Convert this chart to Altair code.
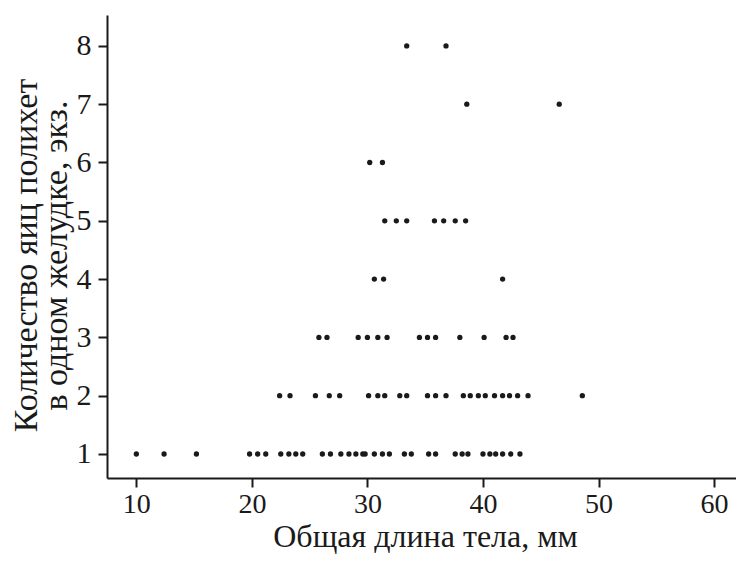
import altair as alt
import pandas as pd

# Body length (mm) of each fish, grouped by number of eggs per stomach
len_1 = [10.0, 12.4, 15.2, 19.8, 20.5, 21.2, 22.5, 23.2, 23.8, 24.4, 26.1, 26.8, 27.7,
         28.4, 29.0, 29.6, 29.8, 30.6, 31.3, 31.9, 33.2, 33.8, 35.3, 35.9, 37.6, 38.2,
         38.7, 40.0, 40.6, 41.1, 41.7, 42.4, 43.2]
len_2 = [22.4, 23.3, 25.5, 26.7, 27.6, 30.1, 30.9, 31.5, 32.8, 33.4, 35.2, 35.9, 36.8,
         38.3, 38.9, 39.6, 40.2, 41.0, 41.7, 42.3, 43.0, 43.9, 48.6]
len_3 = [25.8, 26.5, 29.2, 30.0, 30.9, 31.7, 34.5, 35.2, 35.9, 38.0, 40.1, 42.0, 42.6]
len_4 = [30.6, 31.4, 41.7]
len_5 = [31.5, 32.5, 33.4, 35.8, 36.6, 37.6, 38.5]
len_6 = [30.2, 31.3]
len_7 = [38.6, 46.6]
len_8 = [33.4, 36.8]

groups = [len_1, len_2, len_3, len_4, len_5, len_6, len_7, len_8]
rows = []
for count, lengths in enumerate(groups, start=1):
    for v in lengths:
        rows.append({"length": v, "eggs": count})
df = pd.DataFrame(rows)

x_ticks = [10, 20, 30, 40, 50, 60]
y_ticks = [1, 2, 3, 4, 5, 6, 7, 8]

font = "Liberation Serif"
ink = "#1a1a1a"

chart = alt.Chart(df).mark_circle(size=28, color=ink, opacity=1).encode(
    x=alt.X("length:Q",
            scale=alt.Scale(domain=[7.46, 61.9], nice=False, zero=False),
            axis=alt.Axis(values=x_ticks, title="Общая длина тела, мм", grid=False,
                          tickSize=9, tickWidth=2, domainWidth=2, labelPadding=3,
                          labelFontSize=28,
                          titleX=318, titleY=68, titleBaseline="alphabetic",
                          titleAlign="center", titleFontSize=32)),
    y=alt.Y("eggs:Q",
            scale=alt.Scale(domain=[0.588, 8.53], nice=False, zero=False),
            axis=alt.Axis(values=y_ticks, title=["Количество яиц полихет", "в одном желудке, экз."],
                          grid=False, tickSize=9, tickWidth=2, domainWidth=2,
                          labelPadding=7, labelFontSize=30,
                          titleX=-71, titleY=240, titleAngle=270,
                          titleBaseline="alphabetic", titleAlign="center", titleFontSize=34)),
).properties(
    width=629, height=463,
    autosize=alt.AutoSizeParams(type="none"),
    padding={"left": 99, "top": 7, "right": 0, "bottom": 77},
).configure(background="white").configure_view(stroke=None).configure_axis(
    labelFont=font, titleFont=font,
    labelColor=ink, titleColor=ink, domainColor=ink, tickColor=ink,
    titleFontWeight="normal", titleLineHeight=30,
)

chart.save("out.html", embed_options={"renderer": "svg", "actions": False})
